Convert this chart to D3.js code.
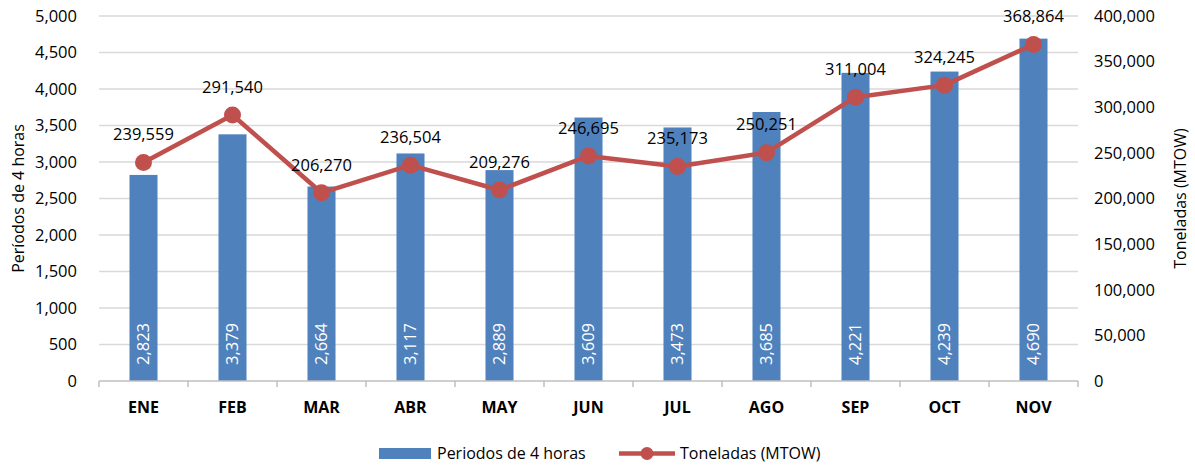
<!DOCTYPE html>
<html>
<head>
<meta charset="utf-8">
<script src="https://cdn.jsdelivr.net/npm/d3@7"></script>
<style>
  body { margin: 0; background: #fff; }
  svg { font-family: "Open Sans", sans-serif; }
</style>
</head>
<body>
<svg id="chart" width="1195" height="467"></svg>
<script>
// data
const months = ['ENE', 'FEB', 'MAR', 'ABR', 'MAY', 'JUN', 'JUL', 'AGO', 'SEP', 'OCT', 'NOV'];
const periodos = [2823, 3379, 2664, 3117, 2889, 3609, 3473, 3685, 4221, 4239, 4690];
const toneladas = [239559, 291540, 206270, 236504, 209276, 246695, 235173, 250251, 311004, 324245, 368864];
const leftTicks = d3.range(0, 5001, 500);
const rightTicks = d3.range(0, 400001, 50000);

const barColor = '#4F81BD';
const lineColor = '#C0504D';
const fmt = d3.format(',');

const margin = {top: 16, right: 117, bottom: 86, left: 99};
const width = 1195, height = 467;

const svg = d3.select('#chart');

const x = d3.scaleBand()
    .domain(months)
    .range([margin.left, width - margin.right])
    .paddingInner(0.685)
    .paddingOuter(0.3425);

const yLeft = d3.scaleLinear().domain([0, 5000]).range([height - margin.bottom, margin.top]);
const yRight = d3.scaleLinear().domain([0, 400000]).range([height - margin.bottom, margin.top]);

// gridlines
svg.append('g')
    .selectAll('line')
    .data(leftTicks.slice(1))
    .join('line')
    .attr('x1', margin.left)
    .attr('x2', width - margin.right)
    .attr('y1', d => yLeft(d))
    .attr('y2', d => yLeft(d))
    .attr('stroke', '#d9d9d9')
    .attr('stroke-width', 1.5);

// left axis labels
svg.append('g')
    .selectAll('text')
    .data(leftTicks)
    .join('text')
    .attr('x', 77)
    .attr('y', d => yLeft(d))
    .attr('dy', '0.35em')
    .attr('text-anchor', 'end')
    .attr('font-size', 16.5)
    .attr('fill', '#000')
    .text(fmt);

// right axis labels
svg.append('g')
    .selectAll('text')
    .data(rightTicks)
    .join('text')
    .attr('x', 1094)
    .attr('y', d => yRight(d))
    .attr('dy', '0.35em')
    .attr('font-size', 16.5)
    .attr('fill', '#000')
    .text(fmt);

// axis titles
const midY = (margin.top + height - margin.bottom) / 2;
svg.append('text')
    .attr('transform', `translate(24,${midY}) rotate(-90)`)
    .attr('text-anchor', 'middle')
    .attr('font-size', 16)
    .text('Períodos de 4 horas');
svg.append('text')
    .attr('transform', `translate(1186,${midY}) rotate(-90)`)
    .attr('text-anchor', 'middle')
    .attr('font-size', 16)
    .text('Toneladas (MTOW)');

// bars
svg.append('g')
    .selectAll('rect')
    .data(periodos)
    .join('rect')
    .attr('x', (d, i) => x(months[i]))
    .attr('width', x.bandwidth())
    .attr('y', d => yLeft(d))
    .attr('height', d => yLeft(0) - yLeft(d))
    .attr('fill', barColor);

// bar value labels (white, rotated)
svg.append('g')
    .selectAll('text')
    .data(periodos)
    .join('text')
    .attr('transform', (d, i) => `translate(${x(months[i]) + x.bandwidth() / 2},${yLeft(0) - 16}) rotate(-90)`)
    .attr('dy', '0.35em')
    .attr('font-size', 16.5)
    .attr('fill', '#fff')
    .text(fmt);

// bottom axis with ticks at category boundaries
const baseY = yLeft(0);
svg.append('line')
    .attr('x1', margin.left).attr('x2', width - margin.right)
    .attr('y1', baseY).attr('y2', baseY)
    .attr('stroke', '#bfbfbf').attr('stroke-width', 1.5);
svg.append('g')
    .selectAll('line')
    .data(d3.range(months.length + 1))
    .join('line')
    .attr('x1', i => margin.left + i * x.step())
    .attr('x2', i => margin.left + i * x.step())
    .attr('y1', baseY)
    .attr('y2', baseY + 6)
    .attr('stroke', '#bfbfbf').attr('stroke-width', 1.5);

svg.append('g')
    .selectAll('text')
    .data(months)
    .join('text')
    .attr('x', d => x(d) + x.bandwidth() / 2)
    .attr('y', 407)
    .attr('dy', '0.35em')
    .attr('text-anchor', 'middle')
    .attr('font-size', 16)
    .attr('font-weight', 'bold')
    .text(d => d);

// line series
const cx = (d, i) => x(months[i]) + x.bandwidth() / 2;
const line = d3.line()
    .x(cx)
    .y(d => yRight(d));
svg.append('path')
    .datum(toneladas)
    .attr('d', line)
    .attr('fill', 'none')
    .attr('stroke', lineColor)
    .attr('stroke-width', 4.5)
    .attr('stroke-linejoin', 'round');
svg.append('g')
    .selectAll('circle')
    .data(toneladas)
    .join('circle')
    .attr('cx', cx)
    .attr('cy', d => yRight(d))
    .attr('r', 8.5)
    .attr('fill', lineColor);

svg.append('g')
    .selectAll('text')
    .data(toneladas)
    .join('text')
    .attr('x', cx)
    .attr('y', d => yRight(d) - 28)
    .attr('dy', '0.35em')
    .attr('text-anchor', 'middle')
    .attr('font-size', 16.5)
    .attr('fill', '#000')
    .text(fmt);

// legend
const legend = svg.append('g');
legend.append('rect')
    .attr('x', 379).attr('y', 448).attr('width', 52).attr('height', 11)
    .attr('fill', barColor);
legend.append('text')
    .attr('x', 437).attr('y', 453.5).attr('dy', '0.35em')
    .attr('font-size', 16)
    .text('Periodos de 4 horas');
legend.append('line')
    .attr('x1', 619).attr('x2', 675).attr('y1', 453.5).attr('y2', 453.5)
    .attr('stroke', lineColor).attr('stroke-width', 4.5);
legend.append('circle')
    .attr('cx', 647).attr('cy', 453.5).attr('r', 6.5)
    .attr('fill', lineColor);
legend.append('text')
    .attr('x', 680).attr('y', 453.5).attr('dy', '0.35em')
    .attr('font-size', 16)
    .text('Toneladas (MTOW)');
</script>
</body>
</html>
